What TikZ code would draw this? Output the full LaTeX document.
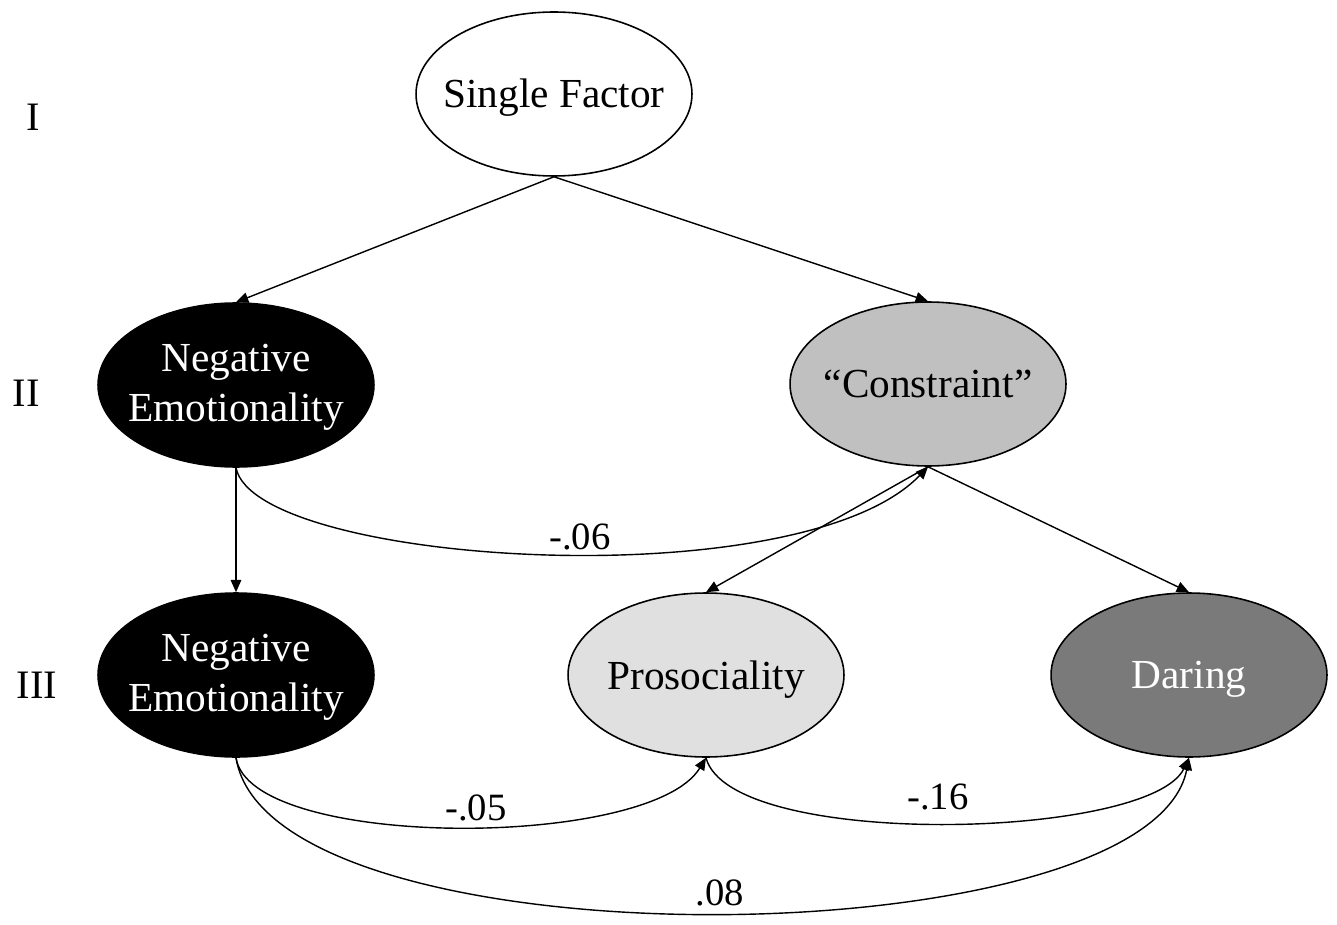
\documentclass[tikz,border=0pt]{standalone}
\usepackage{fontspec}
\setmainfont{Liberation Serif}
\usetikzlibrary{shapes.geometric,arrows.meta}
\definecolor{cgray}{RGB}{192,192,192}
\definecolor{pgray}{RGB}{224,224,224}
\definecolor{dgray}{RGB}{122,122,122}
\begin{document}
\begin{tikzpicture}[x=0.02cm,y=-0.02cm,
  lat/.style={ellipse,draw=black,line width=0.9pt,minimum width=5.52cm,minimum height=3.28cm,inner sep=0pt},
  txt/.style={align=center,inner sep=0pt,font=\fontsize{23.5}{28.5}\selectfont},
  conn/.style={line width=0.8pt,-{Triangle[length=7pt,width=6pt]}},
  lbl/.style={font=\fontsize{22}{26}\selectfont,inner sep=0pt},
  lvl/.style={font=\fontsize{23}{28}\selectfont,inner sep=0pt}]
\useasboundingbox (0,0) rectangle (1337,925);
\fill[white] (0,0) rectangle (1337,925);
\node[lat,fill=white] (sf) at (554,94) {};
\node[lat,fill=black] (ne2) at (236,385) {};
\node[lat,fill=cgray] (con) at (928,384) {};
\node[lat,fill=black] (ne3) at (236,675) {};
\node[lat,fill=pgray] (pro) at (706,675) {};
\node[lat,fill=dgray] (dar) at (1189,675) {};
\node[txt] (sft) at ([yshift=-2pt]sf.center) {Single Factor};
\node[txt,text=white] (ne2t) at ([yshift=-1.5pt]ne2.center) {Negative\\Emotionality};
\node[txt] (cont) at (con.center) {``Constraint''};
\node[txt,text=white] (ne3t) at ([yshift=-1.5pt]ne3.center) {Negative\\Emotionality};
\node[txt] (prot) at ([yshift=-2.5pt]pro.center) {Prosociality};
\node[txt,text=white] (dart) at ([yshift=-2.5pt]dar.center) {Daring};
\node[lvl] (l1) at (33,117) {I};
\node[lvl] (l2) at (26,393) {II};
\node[lvl] (l3) at (37,685) {III};
\draw[conn] (sf.south) -- (ne2.north);
\draw[conn] (sf.south) -- (con.north);
\draw[conn] (ne2.south) -- (ne3.north);
\draw[conn] (con.south) -- (pro.north);
\draw[conn] (con.south) -- (dar.north);
\draw[conn] (ne2.south) .. controls (255,565) and (800,600) .. (con.south);
\draw[conn] (ne3.south) .. controls (250,850) and (650,850) .. (pro.south);
\draw[conn] (pro.south) .. controls (730,850) and (1150,840) .. (dar.south);
\draw[conn] (ne3.south) .. controls (270,970) and (1150,960) .. (dar.south);
\node[lbl] (e1) at (580,537) {-.06};
\node[lbl] (e2) at (476,808) {-.05};
\node[lbl] (e3) at (938,797) {-.16};
\node[lbl] (e4) at (720,893) {.08};
\end{tikzpicture}
\end{document}
